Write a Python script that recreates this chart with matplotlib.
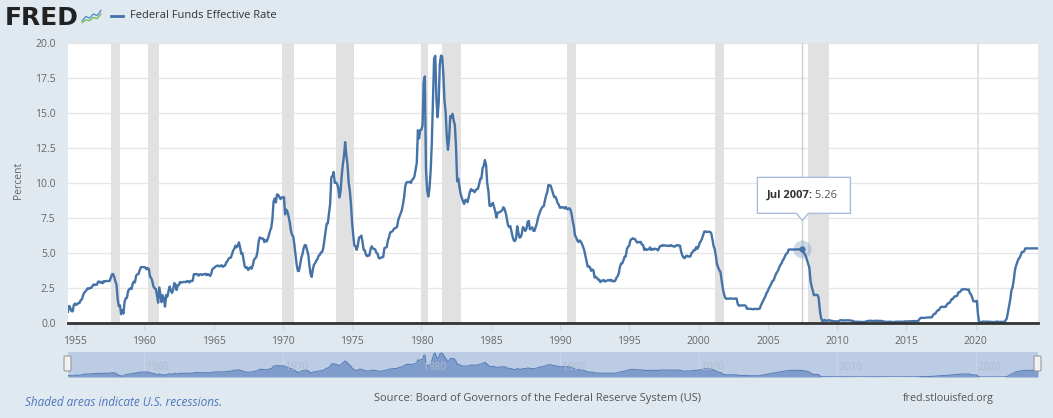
import pandas as pd
import matplotlib.pyplot as plt
import matplotlib.dates as mdates
from matplotlib.patches import Polygon, FancyBboxPatch
from matplotlib.transforms import IdentityTransform

plt.rcParams['font.family'] = ['Open Sans', 'DejaVu Sans']

# ---- data: Federal Funds Effective Rate, monthly, from Jul 1954 ----
start_month = "1954-07-01"
fedfunds = [
    0.80, 1.22, 1.07, 0.85, 0.83, 1.28,                                   # 1954
    1.39, 1.29, 1.35, 1.43, 1.43, 1.64, 1.68, 1.96, 2.18, 2.24, 2.35, 2.48,  # 1955
    2.45, 2.50, 2.50, 2.62, 2.75, 2.71, 2.75, 2.73, 2.95, 2.96, 2.88, 2.94,
    2.84, 3.00, 2.96, 3.00, 3.00, 3.00, 2.99, 3.24, 3.47, 3.50, 3.28, 2.98,
    2.72, 1.67, 1.20, 1.26, 0.63, 0.93, 0.68, 1.53, 1.76, 1.80, 2.27, 2.42,
    2.48, 2.43, 2.80, 2.96, 2.90, 3.39, 3.47, 3.50, 3.76, 3.98, 4.00, 3.99,
    3.99, 3.97, 3.84, 3.92, 3.85, 3.32, 3.23, 2.98, 2.60, 2.47, 2.44, 1.98,  # 1960
    1.45, 2.54, 2.02, 1.49, 1.98, 1.73, 1.17, 2.00, 1.88, 2.26, 2.61, 2.33,
    2.15, 2.37, 2.85, 2.78, 2.36, 2.68, 2.71, 2.93, 2.90, 2.90, 2.94, 2.93,
    2.92, 3.00, 2.98, 2.90, 3.00, 2.99, 3.02, 3.49, 3.48, 3.50, 3.48, 3.38,
    3.48, 3.48, 3.43, 3.47, 3.50, 3.50, 3.42, 3.50, 3.45, 3.36, 3.52, 3.85,
    3.90, 3.98, 4.04, 4.09, 4.10, 4.04, 4.09, 4.12, 4.01, 4.08, 4.10, 4.32,
    4.42, 4.60, 4.65, 4.67, 4.90, 5.17, 5.30, 5.53, 5.40, 5.53, 5.76, 5.40,
    4.94, 5.00, 4.53, 4.05, 3.94, 3.98, 3.79, 3.90, 3.99, 3.88, 4.13, 4.51,
    4.61, 4.71, 5.05, 5.76, 6.11, 6.07, 6.03, 6.03, 5.78, 5.91, 5.82, 6.02,
    6.30, 6.61, 6.79, 7.41, 8.67, 8.90, 8.61, 9.19, 9.15, 9.00, 8.85, 8.97,
    8.98, 8.98, 7.76, 8.10, 7.95, 7.61, 7.21, 6.62, 6.29, 6.20, 5.60, 4.90,  # 1970
    4.14, 3.72, 3.71, 4.15, 4.63, 4.91, 5.31, 5.56, 5.55, 5.20, 4.91, 4.14,
    3.50, 3.29, 3.83, 4.17, 4.27, 4.46, 4.55, 4.80, 4.87, 5.04, 5.06, 5.33,
    5.94, 6.58, 7.09, 7.12, 7.84, 8.49, 10.40, 10.50, 10.78, 10.01, 10.03, 9.95,
    9.65, 8.97, 9.35, 10.51, 11.31, 11.93, 12.92, 12.01, 11.34, 10.06, 9.45, 8.53,
    7.13, 6.24, 5.54, 5.49, 5.22, 5.55, 6.10, 6.14, 6.24, 5.82, 5.22, 5.20,
    4.87, 4.77, 4.84, 4.82, 5.29, 5.48, 5.31, 5.29, 5.25, 5.02, 4.95, 4.65,
    4.61, 4.68, 4.69, 4.73, 5.35, 5.39, 5.42, 5.90, 6.14, 6.47, 6.51, 6.56,
    6.70, 6.78, 6.79, 6.89, 7.36, 7.60, 7.81, 8.04, 8.45, 8.96, 9.76, 10.03,
    10.07, 10.06, 10.09, 10.01, 10.24, 10.29, 10.47, 10.94, 11.43, 13.77, 13.18, 13.78,
    13.82, 14.13, 17.19, 17.61, 10.98, 9.47, 9.03, 9.61, 10.87, 12.81, 15.85, 18.90,  # 1980
    19.08, 15.93, 14.70, 15.72, 18.52, 19.10, 19.04, 17.82, 15.87, 15.08, 13.31, 12.37,
    13.22, 14.78, 14.68, 14.94, 14.45, 14.15, 12.59, 10.12, 10.31, 9.71, 9.20, 8.95,
    8.68, 8.51, 8.77, 8.80, 8.63, 8.98, 9.37, 9.56, 9.45, 9.48, 9.34, 9.47,
    9.56, 9.59, 9.91, 10.29, 10.32, 11.06, 11.23, 11.64, 11.30, 9.99, 9.43, 8.38,
    8.35, 8.50, 8.58, 8.27, 7.97, 7.53, 7.88, 7.90, 7.92, 7.99, 8.05, 8.27,
    8.14, 7.86, 7.48, 6.99, 6.85, 6.92, 6.56, 6.17, 5.89, 5.85, 6.04, 6.91,
    6.43, 6.10, 6.13, 6.37, 6.85, 6.73, 6.58, 6.73, 7.22, 7.29, 6.69, 6.77,
    6.83, 6.58, 6.58, 6.87, 7.09, 7.51, 7.75, 8.01, 8.19, 8.30, 8.35, 8.76,
    9.12, 9.36, 9.85, 9.84, 9.81, 9.53, 9.24, 8.99, 9.02, 8.84, 8.55, 8.45,
    8.23, 8.24, 8.28, 8.26, 8.18, 8.29, 8.15, 8.13, 8.20, 8.11, 7.81, 7.31,  # 1990
    6.91, 6.25, 6.12, 5.91, 5.78, 5.90, 5.82, 5.66, 5.45, 5.21, 4.81, 4.43,
    4.03, 4.06, 3.98, 3.73, 3.82, 3.76, 3.25, 3.30, 3.22, 3.10, 3.09, 2.92,
    3.02, 3.03, 3.07, 2.96, 3.00, 3.04, 3.06, 3.03, 3.09, 2.99, 3.02, 2.96,
    3.05, 3.25, 3.34, 3.56, 4.01, 4.25, 4.26, 4.47, 4.73, 4.76, 5.29, 5.45,
    5.53, 5.92, 5.98, 6.05, 6.01, 6.00, 5.85, 5.74, 5.80, 5.76, 5.80, 5.60,
    5.56, 5.22, 5.31, 5.22, 5.24, 5.27, 5.40, 5.22, 5.30, 5.24, 5.31, 5.29,
    5.25, 5.19, 5.39, 5.51, 5.50, 5.56, 5.52, 5.54, 5.54, 5.50, 5.52, 5.50,
    5.56, 5.51, 5.49, 5.45, 5.49, 5.56, 5.54, 5.55, 5.51, 5.07, 4.83, 4.68,
    4.63, 4.76, 4.81, 4.74, 4.74, 4.76, 4.99, 5.07, 5.22, 5.20, 5.42, 5.30,
    5.45, 5.73, 5.85, 6.02, 6.27, 6.53, 6.54, 6.50, 6.52, 6.51, 6.51, 6.40,  # 2000
    5.98, 5.49, 5.31, 4.80, 4.21, 3.97, 3.77, 3.65, 3.07, 2.49, 2.09, 1.82,
    1.73, 1.74, 1.73, 1.75, 1.75, 1.75, 1.73, 1.74, 1.75, 1.75, 1.34, 1.24,
    1.24, 1.26, 1.25, 1.26, 1.26, 1.22, 1.01, 1.03, 1.01, 1.01, 1.00, 0.98,
    1.00, 1.01, 1.00, 1.00, 1.00, 1.03, 1.26, 1.43, 1.61, 1.76, 1.93, 2.16,
    2.28, 2.50, 2.63, 2.79, 3.00, 3.04, 3.26, 3.50, 3.62, 3.78, 4.00, 4.16,
    4.29, 4.49, 4.59, 4.79, 4.94, 4.99, 5.24, 5.25, 5.25, 5.25, 5.25, 5.24,
    5.25, 5.26, 5.26, 5.25, 5.25, 5.25, 5.26, 5.02, 4.94, 4.76, 4.49, 4.24,
    3.94, 2.98, 2.61, 2.28, 1.98, 2.00, 2.01, 2.00, 1.81, 0.97, 0.39, 0.16,
    0.15, 0.22, 0.18, 0.15, 0.18, 0.21, 0.16, 0.16, 0.15, 0.12, 0.12, 0.12,
    0.11, 0.13, 0.16, 0.20, 0.20, 0.18, 0.18, 0.19, 0.19, 0.19, 0.19, 0.18,  # 2010
    0.17, 0.16, 0.14, 0.10, 0.09, 0.09, 0.07, 0.10, 0.08, 0.07, 0.08, 0.07,
    0.08, 0.10, 0.13, 0.14, 0.16, 0.16, 0.16, 0.13, 0.14, 0.16, 0.16, 0.16,
    0.14, 0.15, 0.14, 0.15, 0.11, 0.09, 0.09, 0.08, 0.08, 0.09, 0.08, 0.09,
    0.07, 0.07, 0.08, 0.09, 0.09, 0.10, 0.09, 0.09, 0.09, 0.09, 0.09, 0.12,
    0.11, 0.11, 0.11, 0.12, 0.12, 0.13, 0.13, 0.14, 0.14, 0.12, 0.12, 0.24,
    0.34, 0.38, 0.36, 0.37, 0.37, 0.38, 0.39, 0.40, 0.40, 0.40, 0.41, 0.54,
    0.65, 0.66, 0.79, 0.90, 0.91, 1.04, 1.15, 1.16, 1.15, 1.15, 1.16, 1.30,
    1.41, 1.42, 1.51, 1.69, 1.70, 1.82, 1.91, 1.91, 1.95, 2.19, 2.20, 2.27,
    2.40, 2.40, 2.41, 2.42, 2.39, 2.38, 2.40, 2.13, 2.04, 1.83, 1.55, 1.55,
    1.55, 1.58, 0.65, 0.05, 0.05, 0.08, 0.09, 0.10, 0.09, 0.09, 0.09, 0.09,  # 2020
    0.09, 0.08, 0.07, 0.07, 0.06, 0.08, 0.10, 0.09, 0.08, 0.08, 0.08, 0.08,
    0.08, 0.08, 0.20, 0.33, 0.77, 1.21, 1.68, 2.33, 2.56, 3.08, 3.78, 4.10,
    4.33, 4.57, 4.65, 4.83, 5.06, 5.08, 5.12, 5.33, 5.33, 5.33, 5.33, 5.33,
    5.33, 5.33, 5.33, 5.33, 5.33, 5.33, 5.33,                               # 2024
]

# NBER recessions (peak month, trough month)
recessions = [
    ("1957-08-01", "1958-04-01"), ("1960-04-01", "1961-02-01"),
    ("1969-12-01", "1970-11-01"), ("1973-11-01", "1975-03-01"),
    ("1980-01-01", "1980-07-01"), ("1981-07-01", "1982-11-01"),
    ("1990-07-01", "1991-03-01"), ("2001-03-01", "2001-11-01"),
    ("2007-12-01", "2009-06-01"), ("2020-02-01", "2020-04-01"),
]

tick_years = list(range(1955, 2021, 5))
nav_years = [1960, 1970, 1980, 1990, 2000, 2010, 2020]
y_ticks = [0, 2.5, 5, 7.5, 10, 12.5, 15, 17.5, 20]

tip_date = "2007-07-01"
tip_label = "Jul 2007:"
tip_value = 5.26

series_name = "Federal Funds Effective Rate"
source_text = "Source: Board of Governors of the Federal Reserve System (US)"

dates = pd.date_range(start_month, periods=len(fedfunds), freq="MS")
rates = pd.Series(fedfunds, index=dates)

BG = "#e1e9f0"
LINE = "#4572a7"
W, H = 1053, 418

fig = plt.figure(figsize=(W / 100, H / 100), dpi=100, facecolor=BG)

# ===== main chart =====
ax = fig.add_axes([68 / W, (H - 323) / H, 970 / W, 280 / H])
ax.set_facecolor("white")

for s, e in recessions:
    ax.axvspan(pd.Timestamp(s), pd.Timestamp(e), color="#e1e1e1", lw=0, zorder=1)

ax.plot(rates.index, rates.values, color=LINE, lw=1.7, zorder=3, solid_joinstyle="round")

ax.set_xlim(dates[0], dates[-1])
ax.set_ylim(0, 20)

ax.set_yticks(y_ticks)
ax.set_yticklabels([f"{v:.1f}" for v in y_ticks])
ax.yaxis.grid(True, color="#e6e6e6", lw=1, zorder=0)
ax.set_axisbelow(True)
ax.tick_params(axis="y", length=0, pad=9, labelsize=7.5, labelcolor="#666666")

ax.set_xticks([pd.Timestamp(f"{y}-01-01") for y in tick_years])
ax.set_xticklabels([str(y) for y in tick_years])
ax.tick_params(axis="x", length=5, width=1, color="#ccd6eb", pad=4,
               labelsize=7.5, labelcolor="#666666")

for side in ["top", "left", "right"]:
    ax.spines[side].set_visible(False)
ax.spines["bottom"].set_color("#333333")
ax.spines["bottom"].set_linewidth(2)
ax.spines["bottom"].set_zorder(4)

fig.text(18 / W, (H - 180) / H, "Percent", rotation=90, ha="center", va="center",
         fontsize=7.5, color="#666666")

# hover crosshair + tooltip
tip_ts = pd.Timestamp(tip_date)
ax.axvline(tip_ts, color="#cccccc", lw=1, zorder=2)
ax.plot(tip_ts, tip_value, "o", ms=13, color=LINE, alpha=0.25, mec="none", zorder=5)
ax.plot(tip_ts, tip_value, "o", ms=3.5, color=LINE, zorder=6)

px, py = ax.transData.transform((mdates.date2num(tip_ts), tip_value))
x0, x1 = px - 45, px + 48
y0, y1 = py + 36, py + 72
box = Polygon([(x0, y0), (px - 6, y0), (px, y0 - 7), (px + 6, y0), (x1, y0), (x1, y1), (x0, y1)],
              closed=True, facecolor="white", edgecolor="#a9bdd8", lw=1,
              transform=IdentityTransform(), zorder=10)
fig.add_artist(box)
fig.text(px + 10, py + 54, tip_label, transform=IdentityTransform(), ha="right", va="center",
         fontsize=8, fontweight="bold", color="#333333", zorder=11)
fig.text(px + 10, py + 54, " " + f"{tip_value:.2f}", transform=IdentityTransform(), ha="left",
         va="center", fontsize=8, color="#555555", zorder=11)

# ===== navigator =====
nav = fig.add_axes([68 / W, (H - 377) / H, 970 / W, 25 / H])
nav.set_facecolor("#bccce4")
nav.fill_between(rates.index, rates.values, 0, color="#7f9ccb", lw=0, zorder=2)
nav.plot(rates.index, rates.values, color="#5b80b9", lw=0.8, zorder=3)
nav.set_xlim(dates[0], dates[-1])
nav.set_ylim(0, 20)
nav.set_xticks([])
nav.set_yticks([])
for sp in nav.spines.values():
    sp.set_visible(False)
for y in nav_years:
    t = pd.Timestamp(f"{y}-01-01")
    nav.axvline(t, color="#c8d5e8", lw=0.8, zorder=1)
    nav.text(t, 7.5, f" {y}", ha="left", va="center", fontsize=7, color="#b0bccd", zorder=4)

for hx in (64, 1034):
    fig.add_artist(FancyBboxPatch((hx, H - 371), 7, 15, boxstyle="round,pad=0,rounding_size=1.5",
                                  facecolor="#f2f2f2", edgecolor="#999999", lw=0.8,
                                  transform=IdentityTransform(), zorder=10))

# ===== header =====
fig.text(5 / W, (H - 25) / H, "FRED", ha="left", va="baseline", fontsize=18,
         fontweight="heavy", color="#222222", family=["DejaVu Sans"])
icon = fig.add_axes([81 / W, (H - 25) / H, 21 / W, 17 / H])
icon.plot([0, 1, 2, 3, 4, 5], [1, 2, 1.6, 2.6, 2.2, 3.4], color="#5a8fd0", lw=1)
icon.plot([0, 1, 2, 3, 4, 5], [0.6, 1.2, 1.0, 1.8, 1.5, 2.6], color="#7cbf5a", lw=1)
icon.set_xlim(-0.3, 5.3)
icon.set_ylim(0, 4)
icon.axis("off")

fig.add_artist(plt.Line2D([111 / W, 123 / W], [(H - 16) / H] * 2, color=LINE, lw=2))
fig.text(130 / W, (H - 16) / H, series_name, ha="left", va="center", fontsize=8, color="#333333")

# ===== footer =====
fig.text(25 / W, (H - 403) / H, "Shaded areas indicate U.S. recessions.", ha="left", va="center",
         fontsize=8.5, style="italic", color="#4b77be")
fig.text(537 / W, (H - 399) / H, source_text, ha="center", va="center", fontsize=8, color="#555555")
fig.text(903 / W, (H - 399) / H, "fred.stlouisfed.org", ha="left", va="center", fontsize=7.7,
         color="#555555")

fig.savefig("out.png", dpi=100, facecolor=BG)
